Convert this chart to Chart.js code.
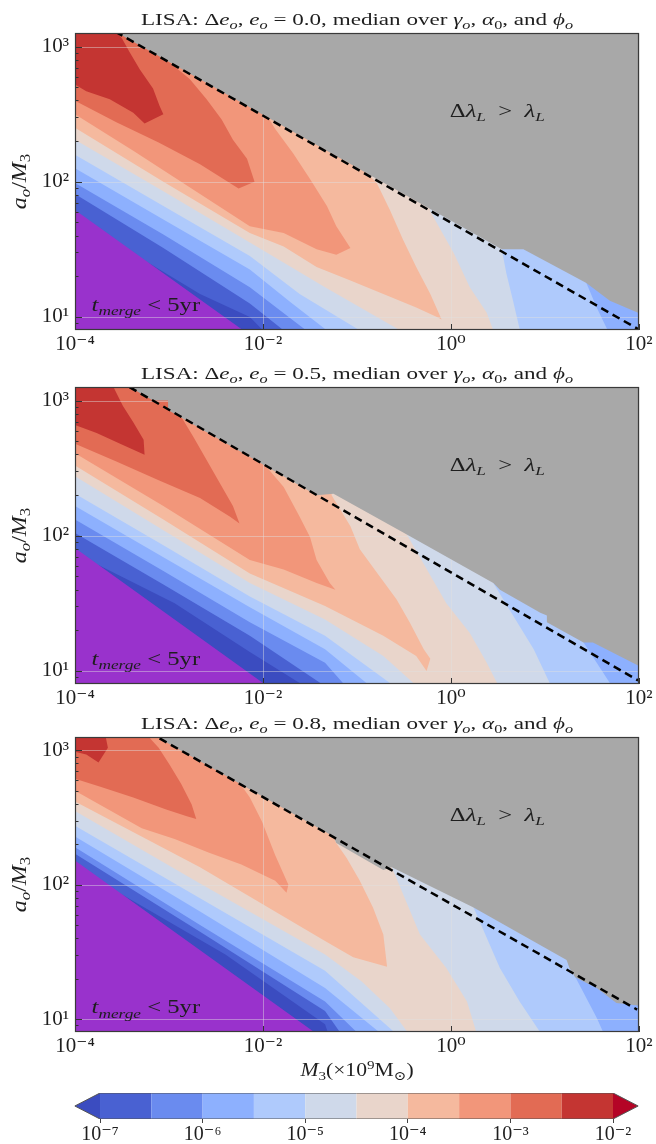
<!DOCTYPE html>
<html>
<head>
<meta charset="utf-8">
<title>LISA eccentricity change</title>
<script src="https://cdn.jsdelivr.net/npm/chart.js@4.4.1/dist/chart.umd.min.js"></script>
<style>
  html, body { margin: 0; padding: 0; background: #fff; }
  body { width: 656px; height: 1144px; position: relative; overflow: hidden; }
  canvas { position: absolute; left: 0; }
</style>
</head>
<body>
<canvas id="panel1" width="656" height="360" style="top:0px"></canvas>
<canvas id="panel2" width="656" height="360" style="top:354px"></canvas>
<canvas id="panel3" width="656" height="358" style="top:704px"></canvas>
<canvas id="cbar" width="656" height="94" style="top:1050px"></canvas>
<script>
// axis ticks and labels
const xTicks = [1e-4, 1e-2, 1, 1e2];
const xTickLabels = ['10⁻⁴', '10⁻²', '10⁰', '10²'];
const yTicks = [10, 100, 1000];
const yTickLabels = ['10¹', '10²', '10³'];
const cbarTicks = [0, 2, 4, 6, 8, 10];
const cbarTickLabels = ['10⁻⁷', '10⁻⁶', '10⁻⁵', '10⁻⁴', '10⁻³', '10⁻²'];
const eccValues = ['0.0', '0.5', '0.8'];

// coolwarm, one colour per band (under, 1e-7 .. 1e-2)
const levelColors = ['#3b4cc0', '#4961d2', '#6a8bef', '#8db0fe', '#afcafc', '#cfd9ea',
                     '#e9d5cb', '#f5b99e', '#f2967a', '#e26b54', '#c43532'];
const overColor = '#b40426';
const mergeColor = '#9932cc';
const grayColor = '#a8a8a8';

// label anchors [M3, a_o/M3]
const gapLabelAt = [0.97, 300];
const mergeLabelAt = [1.5e-4, 11];

// contour edges, points are [log10 M3, log10 a_o/M3], one edge per level 1e-7 ... 10^-2.5
const p1Levels = [
  [[-4.00,1.62],[-3.29,1.43],[-2.67,1.17],[-2.14,1.00],[-2.00,0.90],[-1.96,0.75],[2.50,0.75]],
  [[-4.00,1.91],[-3.06,1.51],[-2.14,1.10],[-1.78,0.90],[-1.71,0.75],[2.50,0.75]],
  [[-4.00,1.99],[-3.06,1.61],[-2.14,1.22],[-1.54,0.90],[-1.47,0.75],[2.50,0.75]],
  [[-4.00,2.10],[-3.06,1.72],[-2.14,1.35],[-1.71,1.11],[-1.32,0.90],[-1.25,0.75],[1.66,0.75],[1.66,0.91],[1.55,1.07],[1.44,1.25]],
  [[-4.00,2.20],[-3.06,1.82],[-2.14,1.45],[-1.61,1.17],[-0.97,0.90],[-0.90,0.75],[0.73,0.75],[0.73,0.91],[0.66,1.12],[0.59,1.32],[0.54,1.50]],
  [[-4.00,2.31],[-3.06,1.93],[-2.14,1.55],[-1.34,1.22],[-0.54,0.90],[-0.44,0.75],[0.45,0.75],[0.45,0.90],[0.38,1.03],[0.20,1.22],[0.03,1.47],[-0.22,1.78]],
  [[-4.00,2.40],[-3.06,2.00],[-2.14,1.62],[-1.78,1.52],[-1.43,1.37],[-1.07,1.27],[-0.72,1.17],[-0.37,1.07],[-0.15,1.00],[-0.10,0.98],[-0.22,1.17],[-0.37,1.37],[-0.51,1.57],[-0.65,1.79],[-0.79,1.99],[-0.97,2.12],[-1.04,2.14]],
  [[-4.00,2.50],[-3.38,2.23],[-2.67,1.91],[-2.14,1.67],[-1.78,1.62],[-1.43,1.50],[-1.22,1.46],[-1.07,1.51],[-1.22,1.67],[-1.32,1.82],[-1.50,2.02],[-1.68,2.21],[-1.87,2.39],[-1.94,2.47]],
  [[-4.00,2.60],[-3.56,2.44],[-3.11,2.29],[-2.67,2.13],[-2.26,1.95],[-2.09,2.00],[-2.17,2.17],[-2.32,2.31],[-2.44,2.46],[-2.60,2.61],[-2.78,2.76],[-2.99,2.88],[-3.13,2.95]],
  [[-4.00,2.72],[-3.88,2.67],[-3.63,2.61],[-3.38,2.51],[-3.26,2.43],[-3.06,2.50],[-3.10,2.56],[-3.17,2.69],[-3.31,2.83],[-3.42,2.96],[-3.50,3.06],[-3.56,3.11]]
];
const p1Gray = [[-3.57,3.11],[0.54,1.50],[0.77,1.50],[1.44,1.25],[1.69,1.12],[1.99,1.03]];
const p1Merge = [[-4.00,1.79],[-2.21,0.90]];
const p1Dashed = [[-3.57,3.11],[1.99,0.91]];

const p2Levels = [
  [[-4.00,1.87],[-2.94,1.50],[-2.14,1.14],[-1.61,0.91],[-1.54,0.77],[2.50,0.77]],
  [[-4.00,2.02],[-3.06,1.64],[-2.14,1.26],[-1.39,0.91],[-1.32,0.77],[2.50,0.77]],
  [[-4.00,2.12],[-3.06,1.74],[-2.14,1.36],[-1.34,1.06],[-1.15,0.91],[-1.07,0.77],[2.50,0.77]],
  [[-4.00,2.22],[-3.06,1.84],[-2.14,1.47],[-1.34,1.16],[-0.90,0.91],[-0.83,0.77],[1.73,0.77],[1.69,0.91],[1.55,1.06],[1.41,1.21]],
  [[-4.00,2.31],[-3.06,1.93],[-2.14,1.55],[-1.34,1.26],[-0.65,0.91],[-0.58,0.77],[1.09,0.77],[1.05,0.91],[0.88,1.16],[0.66,1.41],[0.45,1.65]],
  [[-4.00,2.44],[-3.06,2.04],[-2.14,1.65],[-1.34,1.38],[-0.72,1.11],[-0.40,0.91],[-0.33,0.77],[0.49,0.77],[0.49,0.91],[0.38,1.06],[0.20,1.28],[-0.05,1.50],[-0.47,2.01]],
  [[-4.00,2.52],[-3.06,2.12],[-2.14,1.72],[-1.34,1.48],[-0.72,1.26],[-0.37,1.11],[-0.26,1.00],[-0.22,1.09],[-0.29,1.16],[-0.44,1.36],[-0.58,1.53],[-0.76,1.70],[-0.97,1.90],[-1.07,2.07],[-1.27,2.30]],
  [[-4.00,2.61],[-3.06,2.22],[-2.14,1.82],[-1.78,1.75],[-1.43,1.65],[-1.23,1.60],[-1.29,1.65],[-1.43,1.82],[-1.50,1.99],[-1.61,2.14],[-1.78,2.36],[-2.00,2.54]],
  [[-4.00,2.68],[-3.56,2.55],[-3.11,2.41],[-2.67,2.28],[-2.35,2.14],[-2.25,2.09],[-2.32,2.22],[-2.46,2.39],[-2.60,2.56],[-2.74,2.73],[-2.87,2.88],[-2.95,2.92]],
  [[-4.00,2.82],[-3.77,2.76],[-3.52,2.68],[-3.26,2.60],[-3.27,2.71],[-3.38,2.84],[-3.49,2.96],[-3.57,3.07],[-3.59,3.10]]
];
const p2Gray = [[-3.42,3.10],[-3.17,3.00],[-3.01,3.00],[-3.01,2.93],[-1.43,2.30],[-1.25,2.31],[-0.47,2.01],[0.45,1.65],[0.52,1.60],[0.95,1.43],[1.02,1.41],[1.02,1.36],[1.41,1.21],[1.51,1.21],[1.99,1.04]];
const p2Merge = [[-4.00,1.91],[-2.00,0.91]];
const p2Dashed = [[-3.42,3.10],[1.99,0.93]];

const p3Levels = [
  [[-4.00,2.13],[-2.40,1.48],[-1.34,0.96],[-1.31,0.90],[-1.29,0.74],[2.50,0.74]],
  [[-4.00,2.23],[-2.67,1.65],[-1.34,1.06],[-1.18,0.90],[-1.15,0.74],[2.50,0.74]],
  [[-4.00,2.28],[-2.67,1.70],[-1.34,1.13],[-1.00,0.90],[-0.97,0.74],[2.50,0.74]],
  [[-4.00,2.36],[-2.67,1.80],[-1.34,1.23],[-0.76,0.90],[-0.72,0.74],[1.62,0.74],[1.62,0.90],[1.55,1.01],[1.25,1.41]],
  [[-4.00,2.44],[-2.67,1.90],[-1.34,1.36],[-0.60,0.90],[-0.57,0.74],[0.95,0.74],[0.95,0.90],[0.73,1.13],[0.52,1.38],[0.24,1.83]],
  [[-4.00,2.55],[-2.67,2.01],[-1.34,1.48],[-0.95,1.28],[-0.65,1.08],[-0.46,0.90],[-0.43,0.74],[0.27,0.74],[0.27,0.90],[0.17,1.13],[-0.05,1.38],[-0.33,1.63],[-0.63,2.13]],
  [[-4.00,2.62],[-2.67,2.13],[-1.34,1.58],[-1.04,1.46],[-0.68,1.39],[-0.72,1.63],[-0.83,1.83],[-0.97,2.03],[-1.11,2.20],[-1.23,2.32]],
  [[-4.00,2.70],[-3.29,2.42],[-2.94,2.34],[-2.58,2.24],[-2.23,2.15],[-1.87,2.03],[-1.75,1.94],[-1.73,2.00],[-1.87,2.22],[-2.01,2.47],[-2.14,2.65],[-2.25,2.76]],
  [[-4.00,2.79],[-3.73,2.73],[-3.38,2.65],[-3.03,2.56],[-2.81,2.51],[-2.71,2.49],[-2.76,2.60],[-2.87,2.75],[-2.99,2.89],[-3.11,3.02],[-3.20,3.09]],
  [[-4.00,2.99],[-3.88,2.97],[-3.75,2.91],[-3.65,3.02],[-3.67,3.09]]
];
const p3Gray = [[-3.10,3.09],[-1.25,2.36],[-1.22,2.31],[-0.72,2.11],[-0.63,2.13],[0.24,1.83],[1.23,1.44],[1.26,1.38],[1.32,1.31],[1.55,1.23],[1.76,1.12],[1.99,1.10]];
const p3Merge = [[-4.00,2.18],[-1.45,0.90]];
const p3Dashed = [[-3.10,3.09],[1.98,1.07]];

const SERIF = '"Liberation Serif", "DejaVu Serif", serif';
const INK = '#1e1e1e';
// outside the plot, used to close the filled regions
const TOP = 3.6, LEFT = -4.5, RIGHT = 2.5, BOTTOM = 0.5;

function toXY(pairs) {
  return pairs.map(p => ({ x: Math.pow(10, p[0]), y: Math.pow(10, p[1]) }));
}
function closeUp(edge) {
  const a = edge[0], b = edge[edge.length - 1];
  return edge.concat([[b[0], TOP], [LEFT, TOP], [LEFT, a[1]]]);
}
function closeDown(edge) {
  const a = edge[0], b = edge[edge.length - 1];
  return edge.concat([[b[0], BOTTOM], [LEFT, BOTTOM], [LEFT, a[1]]]);
}
function closeRight(edge) {
  const a = edge[0], b = edge[edge.length - 1];
  return edge.concat([[RIGHT, b[1]], [RIGHT, TOP], [a[0], TOP]]);
}
function shape(data, color) {
  return { data: data, backgroundColor: color, borderWidth: 0, pointRadius: 0, tension: 0, fill: 'shape' };
}

// rich text: r roman, i italic, b subscript, bi italic subscript, p superscript
// the reference uses Computer Modern, which is wider than Liberation Serif, hence the stretch
function fontOf(st, size) {
  const it = st.indexOf('i') >= 0 ? 'italic ' : '';
  const s = (st.indexOf('b') >= 0 || st.indexOf('p') >= 0) ? size * 0.7 : size;
  return it + s.toFixed(1) + 'px ' + SERIF;
}
function drawRich(ctx, parts, x, y, size, align, stretch) {
  stretch = stretch || 1;
  ctx.save();
  ctx.fillStyle = INK;
  ctx.textAlign = 'left';
  ctx.textBaseline = 'alphabetic';
  let w = 0;
  parts.forEach(([t, st]) => { ctx.font = fontOf(st, size); w += ctx.measureText(t).width; });
  const x0 = align === 'center' ? x - w * stretch / 2 : x;
  ctx.translate(x0, y);
  ctx.scale(stretch, 1);
  let cx = 0;
  parts.forEach(([t, st]) => {
    ctx.font = fontOf(st, size);
    const dy = st.indexOf('b') >= 0 ? size * 0.22 : (st.indexOf('p') >= 0 ? -size * 0.38 : 0);
    ctx.fillText(t, cx, dy);
    cx += ctx.measureText(t).width;
  });
  ctx.restore();
}

function titleParts(ecc) {
  return [['LISA: Δ', 'r'], ['e', 'i'], ['o', 'bi'], [', ', 'r'], ['e', 'i'], ['o', 'bi'],
          [' = ' + ecc + ', median over ', 'r'], ['γ', 'i'], ['o', 'bi'], [', ', 'r'],
          ['α', 'i'], ['0', 'b'], [', and ', 'r'], ['ϕ', 'i'], ['o', 'bi']];
}

function panelDeco(ecc, mergeIndex) {
  return {
    id: 'panelDeco',
    afterDatasetDraw(chart, args) {
      // grid sits above the contours and the purple area, below the grey area
      if (args.index !== mergeIndex) return;
      const { ctx, chartArea: a, scales: { x, y } } = chart;
      ctx.save();
      ctx.strokeStyle = 'rgba(225,225,225,0.45)';
      ctx.lineWidth = 1;
      ctx.beginPath();
      xTicks.forEach(v => { const px = Math.round(x.getPixelForValue(v)) + 0.5; ctx.moveTo(px, a.top); ctx.lineTo(px, a.bottom); });
      yTicks.forEach(v => { const py = Math.round(y.getPixelForValue(v)) + 0.5; ctx.moveTo(a.left, py); ctx.lineTo(a.right, py); });
      ctx.stroke();
      ctx.restore();
    },
    afterDraw(chart) {
      const { ctx, chartArea: a, scales: { x, y } } = chart;
      ctx.save();
      // inward ticks
      ctx.strokeStyle = '#333';
      ctx.lineWidth = 1;
      ctx.beginPath();
      for (let k = 0; k < 4; k++) {
        for (let m = 1; m < 10; m++) {
          const v = m * Math.pow(10, k);
          if (v <= y.min || v >= y.max) continue;
          const py = Math.round(y.getPixelForValue(v)) + 0.5;
          ctx.moveTo(a.left, py);
          ctx.lineTo(a.left + (m === 1 ? 7 : 3.5), py);
        }
      }
      xTicks.forEach(v => {
        const px = Math.round(x.getPixelForValue(v)) + 0.5;
        ctx.moveTo(px, a.bottom);
        ctx.lineTo(px, a.bottom - 6);
      });
      ctx.stroke();
      // frame
      ctx.strokeStyle = '#3a3a3a';
      ctx.lineWidth = 1.2;
      ctx.strokeRect(a.left + 0.5, a.top + 0.5, a.right - a.left - 1, a.bottom - a.top - 1);
      ctx.restore();

      const midX = (a.left + a.right) / 2;
      drawRich(ctx, titleParts(ecc), midX, a.top - 8, 17.5, 'center', 1.32);

      ctx.save();
      ctx.translate(20, (a.top + a.bottom) / 2);
      ctx.rotate(-Math.PI / 2);
      drawRich(ctx, [['a', 'i'], ['o', 'bi'], ['/', 'r'], ['M', 'i'], ['3', 'b']], 0, 6, 20, 'center', 1.2);
      ctx.restore();

      drawRich(ctx, [['Δ', 'r'], ['λ', 'i'], ['L', 'bi'], ['\u2002>\u2002', 'r'], ['λ', 'i'], ['L', 'bi']],
               x.getPixelForValue(gapLabelAt[0]), y.getPixelForValue(gapLabelAt[1]), 19, 'left', 1.3);
      drawRich(ctx, [['t', 'i'], ['merge', 'bi'], [' < 5yr', 'r']],
               x.getPixelForValue(mergeLabelAt[0]), y.getPixelForValue(mergeLabelAt[1]), 19, 'left', 1.3);
    }
  };
}

function buildPanel(canvasId, ecc, levels, gray, merge, dashed) {
  const datasets = [shape(toXY([[LEFT, BOTTOM], [RIGHT, BOTTOM], [RIGHT, TOP], [LEFT, TOP]]), levelColors[0])];
  levels.forEach((edge, k) => datasets.push(shape(toXY(closeUp(edge)), levelColors[k + 1])));
  datasets.push(shape(toXY(closeDown(merge)), mergeColor));
  const mergeIndex = datasets.length - 1;
  datasets.push(shape(toXY(closeRight(gray)), grayColor));
  datasets.push({ data: toXY(dashed), borderColor: '#000', borderWidth: 2.5, borderDash: [8, 5],
                  pointRadius: 0, fill: false, tension: 0 });
  // first in the list is painted first
  datasets.forEach((d, i) => { d.order = datasets.length - i; });

  const tickFont = { family: SERIF, size: 21 };
  new Chart(document.getElementById(canvasId), {
    type: 'line',
    data: { datasets: datasets },
    options: {
      responsive: false,
      animation: false,
      devicePixelRatio: 1,
      events: [],
      layout: { padding: { top: 33, right: 17, left: 0, bottom: 0 } },
      plugins: { legend: { display: false }, tooltip: { enabled: false }, title: { display: false } },
      scales: {
        x: {
          type: 'logarithmic', min: 1e-4, max: 1e2,
          afterBuildTicks: s => { s.ticks = xTicks.map(v => ({ value: v })); },
          afterFit: s => { s.height = 30; },
          grid: { display: false, drawTicks: false }, border: { display: false },
          ticks: { callback: (v, i) => xTickLabels[i], font: tickFont, color: INK, padding: 2,
                   maxRotation: 0, autoSkip: false }
        },
        y: {
          type: 'logarithmic', min: 8, max: 1260,
          afterBuildTicks: s => { s.ticks = yTicks.map(v => ({ value: v })); },
          afterFit: s => { s.width = 75; },
          grid: { display: false, drawTicks: false }, border: { display: false },
          ticks: { callback: (v, i) => yTickLabels[i], font: tickFont, color: INK, padding: 6, autoSkip: false }
        }
      }
    },
    plugins: [panelDeco(ecc, mergeIndex)]
  });
}

buildPanel('panel1', eccValues[0], p1Levels, p1Gray, p1Merge, p1Dashed);
buildPanel('panel2', eccValues[1], p2Levels, p2Gray, p2Merge, p2Dashed);
buildPanel('panel3', eccValues[2], p3Levels, p3Gray, p3Merge, p3Dashed);

// colour bar
function cbarShape(pts, color) {
  return { data: pts.map(p => ({ x: p[0], y: p[1] })), backgroundColor: color, borderWidth: 0,
           pointRadius: 0, tension: 0, fill: 'shape' };
}
const cbarSets = [];
levelColors.slice(1).forEach((c, i) => cbarSets.push(cbarShape([[i, 0], [i + 1, 0], [i + 1, 1], [i, 1]], c)));
cbarSets.push(cbarShape([[0, 0], [-0.49, 0.5], [0, 1]], levelColors[0]));
cbarSets.push(cbarShape([[10, 0], [10.49, 0.5], [10, 1]], overColor));
cbarSets.push({ data: [[0, 0], [10, 0], [10.49, 0.5], [10, 1], [0, 1], [-0.49, 0.5], [0, 0]].map(p => ({ x: p[0], y: p[1] })),
                borderColor: '#555', borderWidth: 1, pointRadius: 0, fill: false, tension: 0 });
cbarSets.forEach((d, i) => { d.order = cbarSets.length - i; });

new Chart(document.getElementById('cbar'), {
  type: 'line',
  data: { datasets: cbarSets },
  options: {
    responsive: false,
    animation: false,
    devicePixelRatio: 1,
    events: [],
    layout: { padding: { top: 43, right: 12, left: 70, bottom: 0 } },
    plugins: { legend: { display: false }, tooltip: { enabled: false } },
    scales: {
      x: {
        type: 'linear', min: -0.585, max: 10.604,
        afterBuildTicks: s => { s.ticks = cbarTicks.map(v => ({ value: v })); },
        afterFit: s => { s.height = 25; },
        grid: { drawOnChartArea: false, drawTicks: true, tickLength: 4, color: '#444' },
        border: { display: false },
        ticks: { callback: (v, i) => cbarTickLabels[i], font: { family: SERIF, size: 20 }, color: INK,
                 padding: 0, maxRotation: 0, autoSkip: false }
      },
      y: { display: false, min: 0, max: 1 }
    }
  },
  plugins: [{
    id: 'cbarLabel',
    afterDraw(chart) {
      const a = chart.chartArea;
      drawRich(chart.ctx, [['M', 'i'], ['3', 'b'], ['(×10', 'r'], ['9', 'p'], ['M', 'r'], ['⊙', 'b'], [')', 'r']],
               (a.left + a.right) / 2, 26, 18, 'center', 1.2);
    }
  }]
});
</script>
</body>
</html>
